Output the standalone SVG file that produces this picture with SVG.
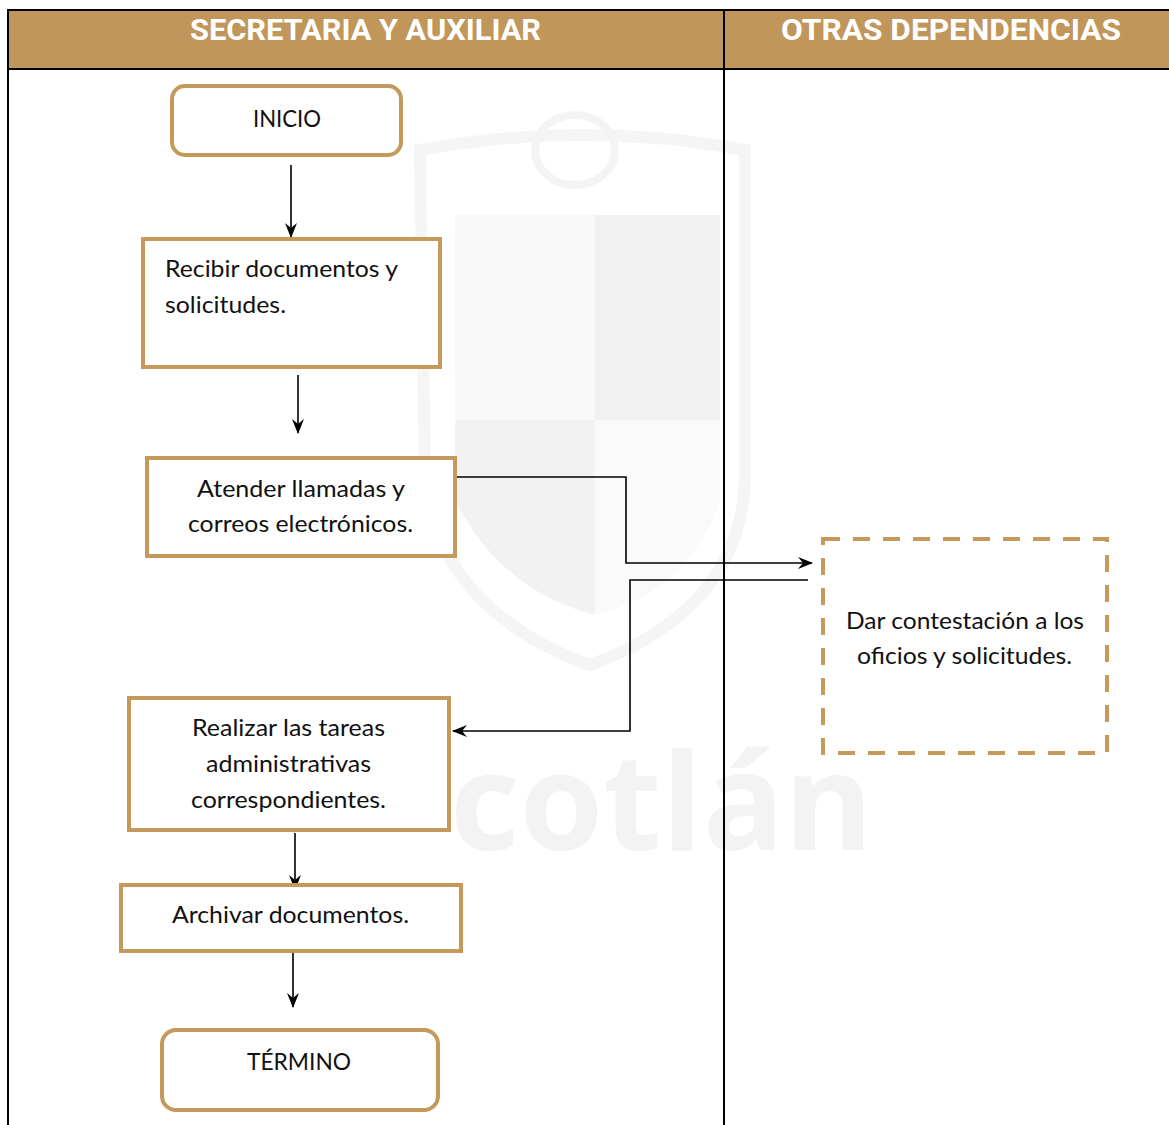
<svg xmlns="http://www.w3.org/2000/svg" width="1169" height="1125" viewBox="0 0 1169 1125">
<style>
.box{fill:#fff;stroke:#C4995A;stroke-width:4}
.dash{fill:none;stroke:#C4995A;stroke-width:4;stroke-dasharray:17 13}
.t{font-family:Lato,"Open Sans","Liberation Sans",sans-serif;font-size:24px;fill:#111}
.c{text-anchor:middle}
.h{font-family:Roboto,"Liberation Sans",Arial,sans-serif;font-weight:bold;font-size:29px;fill:#fff;text-anchor:middle}
.ln{fill:none;stroke:#000;stroke-width:1.6}
</style>
<defs>
<marker id="ah" markerUnits="userSpaceOnUse" markerWidth="16" markerHeight="14" refX="14" refY="7" orient="auto">
<path d="M0,1 L15,7 L0,13 L5,7 z" fill="#000"/>
</marker>
</defs>
<rect x="0" y="0" width="1169" height="1125" fill="#fff"/>
<g id="watermark">
<path d="M420,150 Q585,120 745,150 L745,480 Q740,610 590,665 Q440,610 425,480 Z" fill="none" stroke="#f5f5f5" stroke-width="12"/>
<rect x="455" y="215" width="140" height="205" fill="#f9f9f9"/>
<rect x="595" y="215" width="125" height="205" fill="#f1f1f1"/>
<path d="M455,420 L595,420 L595,615 Q500,590 455,500 Z" fill="#f2f2f2"/>
<path d="M595,420 L720,420 L720,500 Q690,590 595,615 Z" fill="#fafafa"/>
<ellipse cx="575" cy="150" rx="40" ry="35" fill="none" stroke="#f4f4f4" stroke-width="8"/>
<text x="450" y="850" fill="#f3f3f3" font-family="'Open Sans','Liberation Sans',sans-serif" font-weight="bold" font-size="135">cotlán</text>
</g>
<g id="table">
<rect x="8" y="10" width="1170" height="59" fill="#C1965A"/>
<line x1="7" y1="10" x2="1169" y2="10" stroke="#000" stroke-width="2"/>
<line x1="7" y1="69" x2="1169" y2="69" stroke="#000" stroke-width="2"/>
<line x1="8" y1="9" x2="8" y2="1125" stroke="#000" stroke-width="2"/>
<line x1="724" y1="9" x2="724" y2="1125" stroke="#000" stroke-width="2"/>
<text class="h" x="365.5" y="40" textLength="351" lengthAdjust="spacingAndGlyphs">SECRETARIA Y AUXILIAR</text>
<text class="h" x="951" y="40" textLength="340" lengthAdjust="spacingAndGlyphs">OTRAS DEPENDENCIAS</text>
</g>
<g id="connectors">
<line class="ln" x1="291" y1="165" x2="291" y2="237" marker-end="url(#ah)"/>
<line class="ln" x1="298" y1="375" x2="298" y2="433" marker-end="url(#ah)"/>
<polyline class="ln" points="456,477 626,477 626,563 812,563" marker-end="url(#ah)"/>
<polyline class="ln" points="808,580 630,580 630,731 453,731" marker-end="url(#ah)"/>
<line class="ln" x1="295" y1="833" x2="295" y2="889" marker-end="url(#ah)"/>
<line class="ln" x1="293" y1="951" x2="293" y2="1007" marker-end="url(#ah)"/>
</g>
<g id="inicio">
<rect class="box" x="172" y="86" width="229" height="69" rx="13"/>
<text class="t c" x="287" y="127" textLength="68" lengthAdjust="spacingAndGlyphs">INICIO</text>
</g>
<g id="recibir">
<rect class="box" x="143" y="239" width="297" height="128"/>
<text class="t" x="165" y="277" textLength="233" lengthAdjust="spacingAndGlyphs">Recibir documentos y</text>
<text class="t" x="165" y="313" textLength="121" lengthAdjust="spacingAndGlyphs">solicitudes.</text>
</g>
<g id="atender">
<rect class="box" x="147" y="458" width="308" height="98"/>
<text class="t c" x="301" y="497" textLength="208" lengthAdjust="spacingAndGlyphs">Atender llamadas y</text>
<text class="t c" x="300.5" y="532" textLength="225" lengthAdjust="spacingAndGlyphs">correos electrónicos.</text>
</g>
<g id="contestacion">
<rect class="dash" x="823" y="539" width="284" height="214"/>
<text class="t c" x="965" y="629" textLength="238" lengthAdjust="spacingAndGlyphs">Dar contestación a los</text>
<text class="t c" x="964.5" y="664" textLength="215" lengthAdjust="spacingAndGlyphs">oficios y solicitudes.</text>
</g>
<g id="realizar">
<rect class="box" x="129" y="698" width="320" height="132"/>
<text class="t c" x="288.5" y="736" textLength="193" lengthAdjust="spacingAndGlyphs">Realizar las tareas</text>
<text class="t c" x="288.5" y="772" textLength="165" lengthAdjust="spacingAndGlyphs">administrativas</text>
<text class="t c" x="288.5" y="808" textLength="195" lengthAdjust="spacingAndGlyphs">correspondientes.</text>
</g>
<g id="archivar">
<rect class="box" x="121" y="885" width="340" height="66"/>
<text class="t c" x="290.5" y="923" textLength="237" lengthAdjust="spacingAndGlyphs">Archivar documentos.</text>
</g>
<g id="termino">
<rect class="box" x="162" y="1030" width="276" height="80" rx="14"/>
<text class="t c" x="299" y="1070" textLength="104" lengthAdjust="spacingAndGlyphs">TÉRMINO</text>
</g>
</svg>
